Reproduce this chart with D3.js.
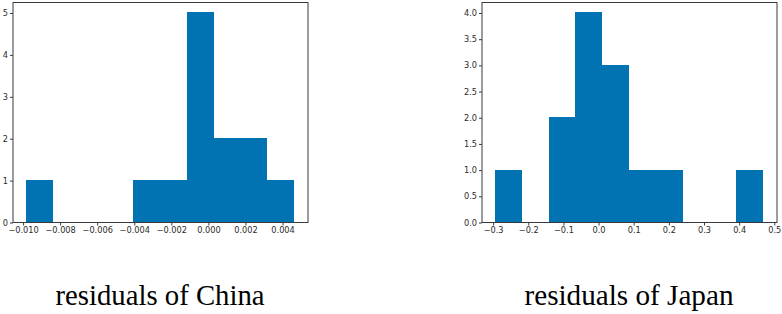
<!DOCTYPE html>
<html>
<head>
<meta charset="utf-8">
<script src="https://cdn.jsdelivr.net/npm/d3@7"></script>
<style>
  html, body { margin: 0; padding: 0; background: #fff; }
  svg { display: block; }
</style>
</head>
<body>
<div id="chart"></div>
<script>
// Two residual histograms side by side (matplotlib look), captions in serif below.

const chinaEdges  = [-0.00982, -0.00837, -0.00693, -0.00548, -0.00403, -0.00259, -0.00114, 0.00031, 0.00176, 0.00320, 0.00465];
const chinaCounts = [1, 0, 0, 0, 1, 1, 5, 2, 2, 1];
const chinaXTicks = [-0.010, -0.008, -0.006, -0.004, -0.002, 0.000, 0.002, 0.004];
const chinaYTicks = [0, 1, 2, 3, 4, 5];

const japanEdges  = [-0.2934, -0.2171, -0.1408, -0.0645, 0.0118, 0.0881, 0.1644, 0.2407, 0.3170, 0.3932, 0.4695];
const japanCounts = [1, 0, 2, 4, 3, 1, 1, 0, 0, 1];
const japanXTicks = [-0.3, -0.2, -0.1, 0.0, 0.1, 0.2, 0.3, 0.4, 0.5];
const japanYTicks = [0, 0.5, 1.0, 1.5, 2.0, 2.5, 3.0, 3.5, 4.0];

const captions = ["residuals of China", "residuals of Japan"];

const W = 782, H = 314;
const BAR   = "#0173b2";
const FRAME = "#3a3a3a";
const TICKF = "DejaVu Sans, sans-serif";

const svg = d3.select("#chart").append("svg")
  .attr("width", W).attr("height", H)
  .attr("viewBox", `0 0 ${W} ${H}`);

function histogram(opts) {
  const { x0, x1, y0, y1, edges, counts, xTicks, yTicks, xFmt, yFmt, caption } = opts;

  // matplotlib pads the data range by 5% on x, and the top by 5% on y
  const lo = edges[0], hi = edges[edges.length - 1];
  const pad = (hi - lo) * 0.05;
  const x = d3.scaleLinear().domain([lo - pad, hi + pad]).range([x0, x1]);
  const y = d3.scaleLinear().domain([0, d3.max(counts) * 1.05]).range([y1, y0]);

  const g = svg.append("g");

  // crispEdges so neighbouring bins meet without antialias seams
  g.selectAll("rect.bar")
    .data(counts.map((c, i) => ({ a: edges[i], b: edges[i + 1], c })))
    .join("rect")
      .attr("class", "bar")
      .attr("x", d => x(d.a))
      .attr("y", d => y(d.c))
      .attr("width", d => x(d.b) - x(d.a))
      .attr("height", d => y(0) - y(d.c))
      .attr("fill", BAR)
      .attr("shape-rendering", "crispEdges");

  // frame
  g.append("rect")
    .attr("x", x0 + 0.5).attr("y", y0 + 0.5)
    .attr("width", x1 - x0).attr("height", y1 - y0)
    .attr("fill", "none")
    .attr("stroke", FRAME)
    .attr("stroke-width", 1);

  const xAxis = g.append("g")
    .attr("transform", `translate(0.5,${y1 + 0.5})`)
    .call(d3.axisBottom(x).tickValues(xTicks).tickFormat(xFmt).tickSize(3).tickPadding(2));
  const yAxis = g.append("g")
    .attr("transform", `translate(${x0 + 0.5},0.5)`)
    .call(d3.axisLeft(y).tickValues(yTicks).tickFormat(yFmt).tickSize(3).tickPadding(2));

  [xAxis, yAxis].forEach(ax => {
    ax.select(".domain").remove();
    ax.selectAll(".tick line").attr("stroke", FRAME);
    ax.selectAll("text")
      .attr("fill", "#2a2a2a")
      .style("font-size", "8.2px")
      .style("font-family", TICKF);
  });

  g.append("text")
    .attr("x", (x0 + x1) / 2)
    .attr("y", 305)
    .attr("text-anchor", "middle")
    .attr("fill", "#000")
    .attr("textLength", 209)
    .attr("lengthAdjust", "spacingAndGlyphs")
    .style("font-family", "Liberation Serif, Times New Roman, serif")
    .style("font-size", "28.5px")
    .text(caption);
}

const minus = s => s.replace("-", "\u2212");

histogram({
  x0: 12.5, x1: 307.5, y0: 2, y1: 222,
  edges: chinaEdges, counts: chinaCounts,
  xTicks: chinaXTicks, yTicks: chinaYTicks,
  xFmt: d => minus(d3.format(".3f")(d)),
  yFmt: d3.format("d"),
  caption: captions[0]
});

histogram({
  x0: 481.5, x1: 776.5, y0: 2, y1: 222,
  edges: japanEdges, counts: japanCounts,
  xTicks: japanXTicks, yTicks: japanYTicks,
  xFmt: d => minus(d3.format(".1f")(d)),
  yFmt: d3.format(".1f"),
  caption: captions[1]
});
</script>
</body>
</html>
